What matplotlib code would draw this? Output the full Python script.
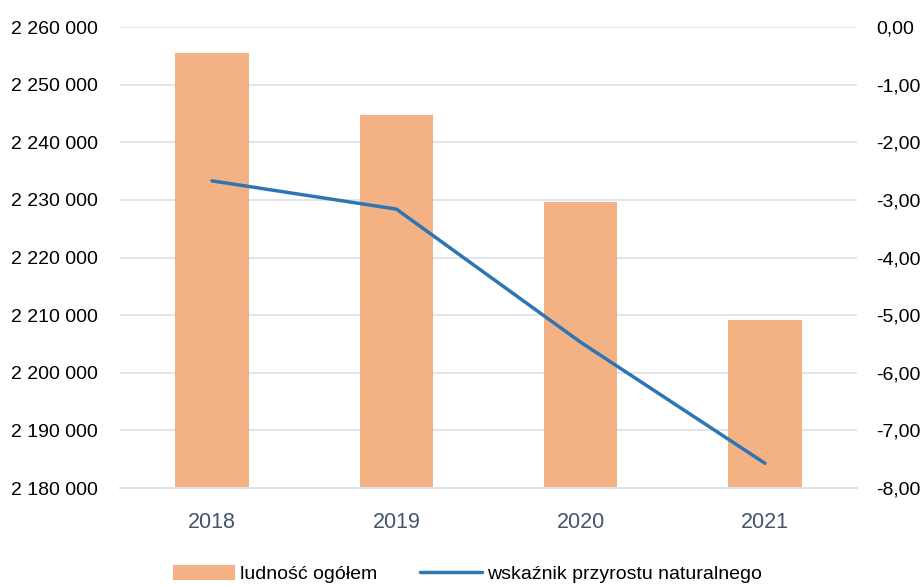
import matplotlib.pyplot as plt
from matplotlib.ticker import FuncFormatter

years = ["2018", "2019", "2020", "2021"]
population = [2255500, 2244700, 2229600, 2209100]
natural_growth = [-2.67, -3.16, -5.47, -7.57]

left_ticks = [2180000, 2190000, 2200000, 2210000, 2220000, 2230000, 2240000, 2250000, 2260000]
right_ticks = [-8, -7, -6, -5, -4, -3, -2, -1, 0]

plt.rcParams["font.family"] = ["Liberation Sans", "DejaVu Sans"]

bar_color = "#F4B183"
line_color = "#2E75B6"
grid_color = "#DDE2E9"

fig = plt.figure(figsize=(9.24, 5.85), dpi=100)
ax = fig.add_axes([0.1299, 0.1658, 0.7976, 0.788])
ax2 = ax.twinx()

x = list(range(len(years)))
bars = ax.bar(x, population, width=0.4, color=bar_color, zorder=2, label="ludność ogółem")
line, = ax2.plot(x, natural_growth, color=line_color, linewidth=2.5, zorder=3,
                 solid_capstyle="round", label="wskaźnik przyrostu naturalnego")

ax.set_xlim(-0.5, 3.5)
ax.set_ylim(2180000, 2260000)
ax2.set_ylim(-8, 0)
ax.set_yticks(left_ticks)
ax2.set_yticks(right_ticks)
ax.yaxis.set_major_formatter(FuncFormatter(lambda v, p: f"{int(v):,}".replace(",", " ")))
ax2.yaxis.set_major_formatter(FuncFormatter(lambda v, p: f"{v:.2f}".replace(".", ",")))
ax.set_xticks(x)
ax.set_xticklabels(years)

ax.grid(axis="y", color=grid_color, linewidth=1.3, zorder=0)
ax.set_axisbelow(True)
for a in (ax, ax2):
    for s in ("top", "left", "right"):
        a.spines[s].set_visible(False)
    a.spines["bottom"].set_color(grid_color)
    a.spines["bottom"].set_linewidth(1.3)

ax.tick_params(axis="y", length=0, pad=16, labelsize=14, labelcolor="black")
ax2.tick_params(axis="y", length=0, pad=14, labelsize=14, labelcolor="black")
ax.tick_params(axis="x", length=0, pad=17, labelsize=15.5, labelcolor="#44546A")

# legend sits at the very bottom, like in the source image
fig.legend(handles=[bars, line], loc="center", bbox_to_anchor=(0.506, 0.019),
           ncol=2, frameon=False, fontsize=14, handlelength=3.2, handleheight=0.8,
           handletextpad=0.25, columnspacing=2.2, borderaxespad=0, borderpad=0)

fig.savefig("out.png", dpi=100)
plt.close(fig)
